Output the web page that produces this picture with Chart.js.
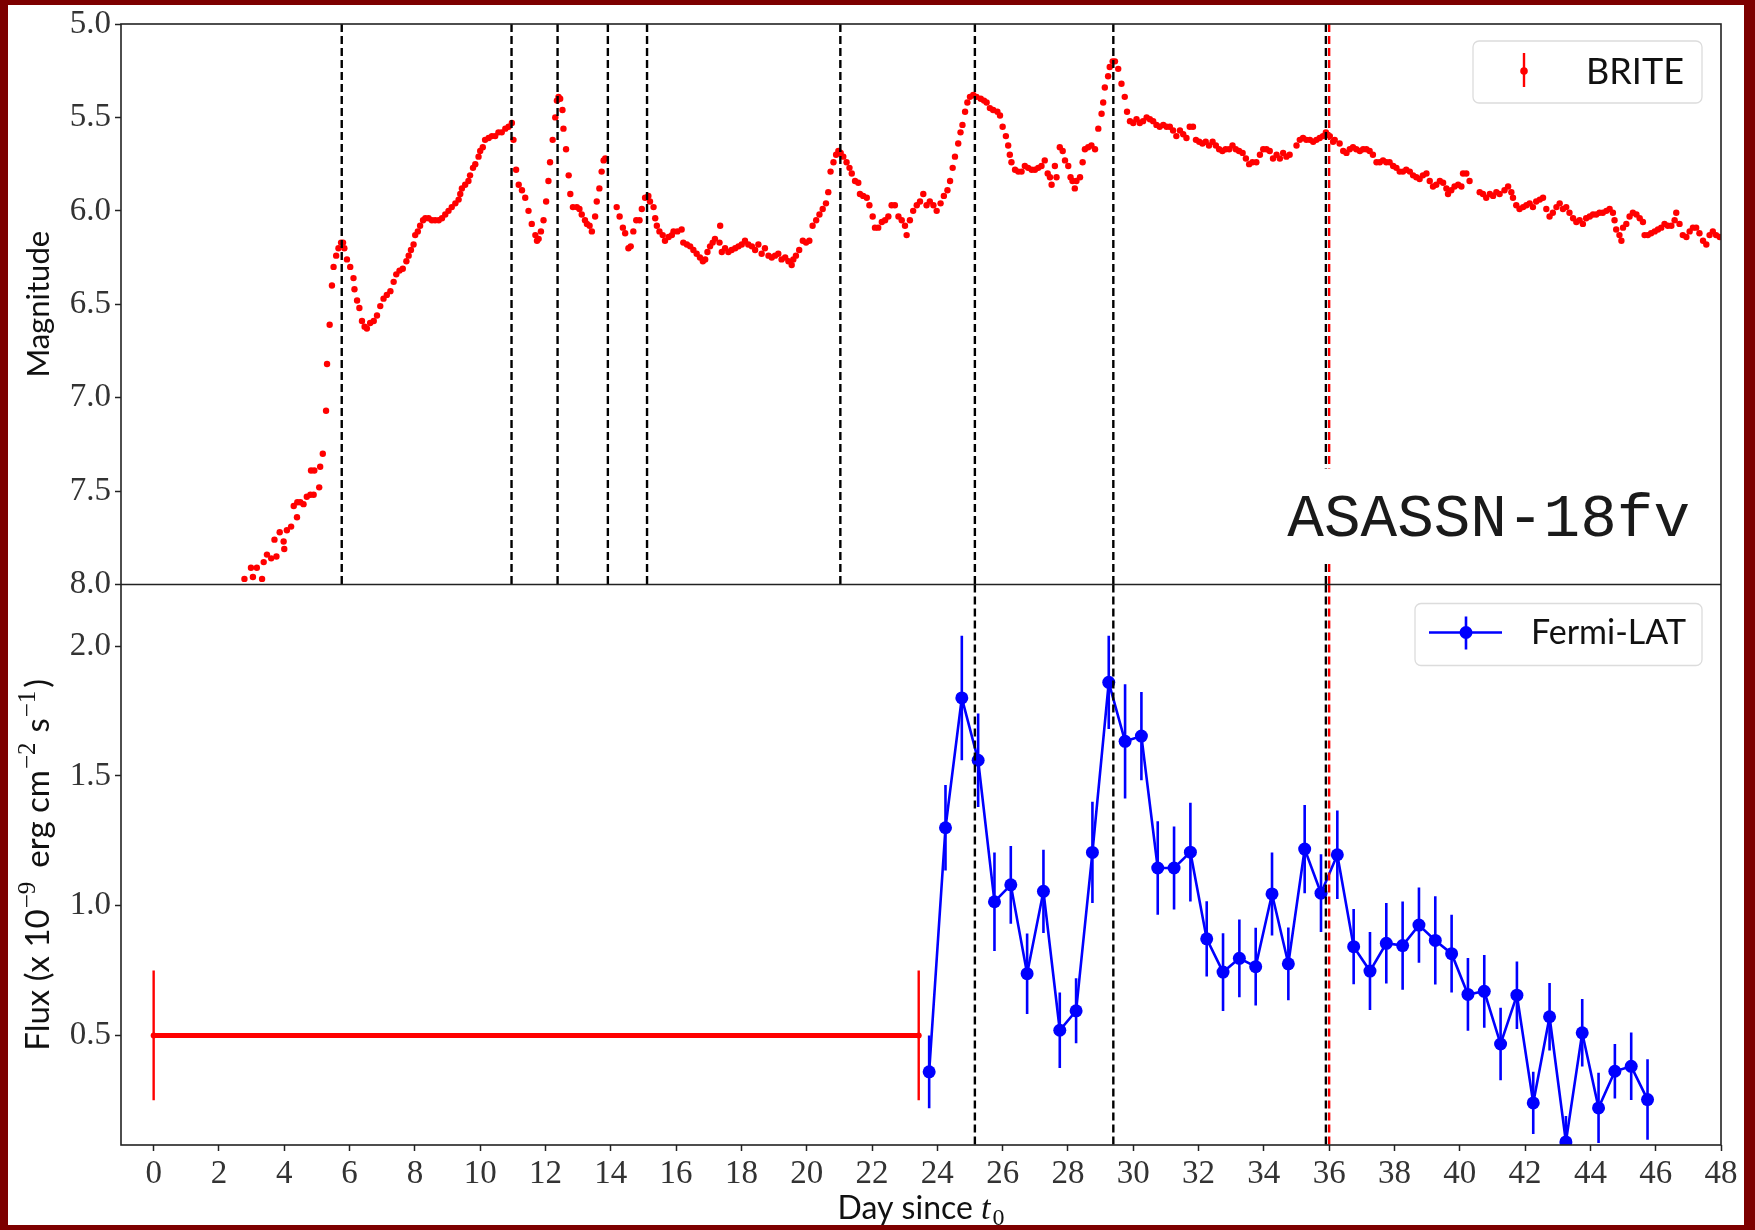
<!DOCTYPE html>
<html>
<head>
<meta charset="utf-8">
<script src="https://cdn.jsdelivr.net/npm/chart.js@4.4.1/dist/chart.umd.min.js"></script>
<style>
  html, body { margin: 0; padding: 0; background: #7d0000; }
  #marco { position: relative; width: 1755px; height: 1230px; background: #7d0000; overflow: hidden; }
  #papel { position: absolute; left: 8px; top: 5px; width: 1736px; height: 1220px; background: #fff; }
  #contenedor { position: absolute; left: 0; top: 0; width: 1755px; height: 1230px; }
</style>
</head>
<body>
<div id="marco">
  <div id="papel"></div>
  <div id="contenedor"><canvas id="grafico"></canvas></div>
</div>
<script>
// BRITE photometry (day since t0, magnitude)
var briteDay = [2.78, 2.98, 3.04, 3.16, 3.32, 3.37, 3.47, 3.60, 3.70, 3.76, 3.86, 3.98, 4.00, 4.08, 4.21, 4.29, 4.39, 4.40, 4.49, 4.59,
  4.69, 4.80, 4.82, 4.90, 4.92, 5.07, 5.10, 5.18, 5.28, 5.31, 5.39, 5.46, 5.51, 5.59, 5.66, 5.74, 5.80, 5.84, 5.92, 6.02,
  6.12, 6.15, 6.23, 6.30, 6.38, 6.46, 6.53, 6.63, 6.74, 6.84, 6.94, 7.04, 7.14, 7.25, 7.35, 7.43, 7.53, 7.63, 7.74, 7.81,
  7.88, 7.96, 8.01, 8.09, 8.16, 8.25, 8.32, 8.42, 8.52, 8.62, 8.73, 8.83, 8.93, 9.03, 9.13, 9.24, 9.34, 9.39, 9.44, 9.54,
  9.64, 9.69, 9.78, 9.85, 9.95, 10.00, 10.08, 10.15, 10.26, 10.36, 10.46, 10.56, 10.66, 10.77, 10.87, 10.97, 11.02, 11.10, 11.18, 11.28,
  11.38, 11.48, 11.58, 11.69, 11.74, 11.79, 11.86, 11.94, 12.02, 12.09, 12.14, 12.22, 12.30, 12.35, 12.40, 12.45, 12.52, 12.55, 12.63, 12.71,
  12.76, 12.84, 12.96, 13.04, 13.11, 13.21, 13.27, 13.35, 13.42, 13.52, 13.57, 13.65, 13.72, 13.78, 13.83, 14.18, 14.27, 14.37, 14.44, 14.54,
  14.61, 14.69, 14.78, 14.88, 14.95, 15.05, 15.15, 15.20, 15.31, 15.36, 15.41, 15.49, 15.59, 15.66, 15.77, 15.87, 15.92, 16.04, 16.17, 16.22,
  16.33, 16.43, 16.53, 16.63, 16.73, 16.82, 16.89, 16.96, 17.04, 17.12, 17.19, 17.33, 17.35, 17.40, 17.50, 17.60, 17.70, 17.81, 17.91, 18.01,
  18.11, 18.21, 18.32, 18.42, 18.52, 18.62, 18.72, 18.83, 18.93, 19.03, 19.13, 19.23, 19.34, 19.44, 19.54, 19.59, 19.67, 19.77, 19.88, 19.98,
  20.08, 20.18, 20.29, 20.39, 20.49, 20.59, 20.66, 20.73, 20.82, 20.90, 20.97, 21.04, 21.12, 21.22, 21.31, 21.38, 21.48, 21.58, 21.63, 21.73,
  21.84, 21.92, 22.02, 22.09, 22.19, 22.30, 22.40, 22.50, 22.60, 22.70, 22.81, 22.91, 23.01, 23.06, 23.16, 23.26, 23.37, 23.47, 23.57, 23.67,
  23.77, 23.88, 23.98, 24.10, 24.20, 24.31, 24.39, 24.47, 24.54, 24.64, 24.71, 24.77, 24.85, 24.92, 25.00, 25.10, 25.20, 25.33, 25.43, 25.51,
  25.61, 25.71, 25.84, 25.92, 26.00, 26.10, 26.17, 26.22, 26.27, 26.38, 26.48, 26.58, 26.68, 26.78, 26.89, 26.99, 27.09, 27.19, 27.29, 27.38,
  27.45, 27.50, 27.60, 27.65, 27.75, 27.84, 27.91, 28.01, 28.08, 28.14, 28.21, 28.26, 28.37, 28.45, 28.52, 28.62, 28.72, 28.83, 28.93, 29.03,
  29.08, 29.13, 29.23, 29.28, 29.37, 29.44, 29.54, 29.64, 29.74, 29.81, 29.90, 30.00, 30.10, 30.20, 30.30, 30.41, 30.51, 30.61, 30.71, 30.81,
  30.92, 31.02, 31.12, 31.22, 31.32, 31.43, 31.53, 31.63, 31.73, 31.83, 31.92, 32.02, 32.12, 32.22, 32.32, 32.43, 32.53, 32.63, 32.73, 32.83,
  32.94, 33.04, 33.14, 33.24, 33.35, 33.45, 33.55, 33.65, 33.77, 33.88, 33.98, 34.08, 34.18, 34.28, 34.39, 34.49, 34.59, 34.69, 34.79, 35.00,
  35.10, 35.20, 35.30, 35.41, 35.51, 35.61, 35.71, 35.81, 35.90, 36.02, 36.12, 36.17, 36.32, 36.43, 36.53, 36.63, 36.73, 36.83, 36.94, 37.04,
  37.14, 37.24, 37.34, 37.45, 37.55, 37.65, 37.75, 37.85, 37.96, 38.06, 38.16, 38.26, 38.36, 38.47, 38.57, 38.67, 38.77, 38.87, 38.98, 39.08,
  39.18, 39.28, 39.39, 39.49, 39.59, 39.64, 39.74, 39.84, 39.95, 40.05, 40.10, 40.20, 40.30, 40.61, 40.71, 40.81, 40.92, 41.02, 41.12, 41.22,
  41.37, 41.48, 41.58, 41.63, 41.73, 41.83, 41.94, 42.04, 42.14, 42.24, 42.34, 42.45, 42.55, 42.65, 42.75, 42.85, 42.96, 43.06, 43.16, 43.26,
  43.36, 43.47, 43.57, 43.67, 43.77, 43.87, 43.98, 44.08, 44.18, 44.28, 44.38, 44.49, 44.59, 44.69, 44.74, 44.79, 44.89, 44.95, 45.00, 45.10,
  45.20, 45.30, 45.41, 45.51, 45.61, 45.66, 45.76, 45.86, 45.97, 46.07, 46.17, 46.27, 46.37, 46.48, 46.58, 46.63, 46.73, 46.83, 46.94, 47.04,
  47.14, 47.24, 47.34, 47.45, 47.55, 47.65, 47.75, 47.85, 47.96];
var briteMag = [7.97, 7.91, 7.96, 7.91, 7.97, 7.88, 7.84, 7.86, 7.76, 7.85, 7.72, 7.77, 7.81, 7.71, 7.69, 7.58, 7.64, 7.56, 7.56, 7.57,
  7.53, 7.52, 7.39, 7.52, 7.39, 7.48, 7.37, 7.30, 7.07, 6.82, 6.61, 6.40, 6.30, 6.24, 6.20, 6.17, 6.17, 6.20, 6.26, 6.30,
  6.36, 6.42, 6.48, 6.52, 6.59, 6.62, 6.63, 6.60, 6.59, 6.56, 6.51, 6.47, 6.45, 6.43, 6.38, 6.34, 6.32, 6.31, 6.27, 6.24,
  6.21, 6.18, 6.13, 6.11, 6.08, 6.05, 6.04, 6.04, 6.05, 6.05, 6.05, 6.04, 6.02, 6.00, 5.98, 5.96, 5.94, 5.91, 5.88, 5.86,
  5.84, 5.81, 5.77, 5.75, 5.71, 5.68, 5.66, 5.62, 5.61, 5.60, 5.60, 5.58, 5.58, 5.56, 5.55, 5.53, 5.62, 5.78, 5.86, 5.89,
  5.93, 6.00, 6.07, 6.13, 6.16, 6.15, 6.11, 6.05, 5.95, 5.84, 5.74, 5.62, 5.50, 5.41, 5.39, 5.40, 5.46, 5.56, 5.67, 5.81,
  5.91, 5.98, 5.98, 5.99, 6.02, 6.05, 6.07, 6.08, 6.11, 6.03, 5.95, 5.88, 5.79, 5.73, 5.72, 5.98, 6.03, 6.09, 6.12, 6.20,
  6.19, 6.11, 6.05, 6.05, 5.99, 5.93, 5.92, 5.95, 5.98, 6.04, 6.08, 6.11, 6.13, 6.16, 6.14, 6.13, 6.11, 6.11, 6.10, 6.17,
  6.18, 6.19, 6.21, 6.23, 6.25, 6.27, 6.26, 6.22, 6.19, 6.17, 6.15, 6.17, 6.08, 6.22, 6.20, 6.22, 6.21, 6.20, 6.19, 6.18,
  6.16, 6.18, 6.19, 6.21, 6.18, 6.23, 6.20, 6.24, 6.25, 6.24, 6.23, 6.26, 6.25, 6.27, 6.29, 6.26, 6.24, 6.21, 6.16, 6.17,
  6.16, 6.08, 6.05, 6.02, 5.99, 5.96, 5.90, 5.79, 5.74, 5.70, 5.68, 5.69, 5.71, 5.74, 5.77, 5.80, 5.84, 5.85, 5.91, 5.92,
  5.93, 5.97, 6.03, 6.09, 6.09, 6.06, 6.05, 6.03, 5.97, 5.97, 6.03, 6.05, 6.08, 6.13, 6.05, 6.00, 5.97, 5.95, 5.91, 5.97,
  5.95, 5.97, 6.00, 5.96, 5.92, 5.89, 5.84, 5.77, 5.71, 5.64, 5.58, 5.54, 5.47, 5.42, 5.39, 5.38, 5.39, 5.40, 5.41, 5.42,
  5.45, 5.46, 5.47, 5.49, 5.55, 5.60, 5.65, 5.70, 5.74, 5.78, 5.79, 5.79, 5.76, 5.77, 5.78, 5.78, 5.77, 5.76, 5.73, 5.80,
  5.82, 5.86, 5.76, 5.82, 5.66, 5.68, 5.73, 5.76, 5.82, 5.84, 5.88, 5.84, 5.82, 5.74, 5.67, 5.66, 5.65, 5.67, 5.56, 5.48,
  5.42, 5.34, 5.28, 5.23, 5.20, 5.20, 5.24, 5.32, 5.39, 5.47, 5.52, 5.53, 5.51, 5.53, 5.52, 5.50, 5.51, 5.52, 5.54, 5.55,
  5.54, 5.55, 5.55, 5.57, 5.60, 5.57, 5.59, 5.61, 5.55, 5.55, 5.62, 5.63, 5.64, 5.63, 5.65, 5.63, 5.65, 5.67, 5.68, 5.67,
  5.67, 5.65, 5.67, 5.68, 5.69, 5.72, 5.75, 5.74, 5.74, 5.70, 5.67, 5.67, 5.68, 5.72, 5.70, 5.72, 5.69, 5.71, 5.70, 5.65,
  5.62, 5.61, 5.62, 5.62, 5.63, 5.62, 5.61, 5.60, 5.58, 5.60, 5.63, 5.62, 5.64, 5.68, 5.69, 5.67, 5.66, 5.67, 5.68, 5.67,
  5.67, 5.68, 5.70, 5.74, 5.74, 5.73, 5.74, 5.74, 5.76, 5.77, 5.79, 5.79, 5.78, 5.79, 5.81, 5.82, 5.83, 5.81, 5.80, 5.84,
  5.87, 5.86, 5.84, 5.85, 5.88, 5.91, 5.89, 5.87, 5.86, 5.87, 5.80, 5.80, 5.84, 5.90, 5.91, 5.93, 5.91, 5.92, 5.90, 5.91,
  5.89, 5.87, 5.90, 5.93, 5.97, 5.99, 5.98, 5.97, 5.96, 5.98, 5.95, 5.94, 5.93, 5.99, 6.03, 6.01, 5.98, 5.96, 5.99, 5.98,
  6.01, 6.04, 6.06, 6.05, 6.07, 6.04, 6.03, 6.02, 6.02, 6.01, 6.01, 6.00, 5.99, 6.01, 6.05, 6.10, 6.13, 6.16, 6.09, 6.07,
  6.03, 6.01, 6.02, 6.04, 6.06, 6.13, 6.13, 6.12, 6.11, 6.10, 6.09, 6.07, 6.08, 6.08, 6.05, 6.01, 6.07, 6.13, 6.14, 6.11,
  6.09, 6.09, 6.12, 6.16, 6.18, 6.13, 6.11, 6.13, 6.14];

// Fermi-LAT flux (x 1e-9 erg cm^-2 s^-1)
var fermiDay = [23.75, 24.25, 24.75, 25.25, 25.75, 26.25, 26.75, 27.25, 27.75, 28.25, 28.75, 29.25, 29.75, 30.25, 30.75,
  31.25, 31.75, 32.25, 32.75, 33.25, 33.75, 34.25, 34.75, 35.25, 35.75, 36.25, 36.75, 37.25, 37.75, 38.25,
  38.75, 39.25, 39.75, 40.25, 40.75, 41.25, 41.75, 42.25, 42.75, 43.25, 43.75, 44.25, 44.75, 45.25, 45.75];
var fermiFlux = [0.36, 1.30, 1.80, 1.56, 1.015, 1.08, 0.738, 1.055, 0.52, 0.595, 1.205, 1.86, 1.633, 1.653, 1.145,
  1.145, 1.206, 0.872, 0.744, 0.797, 0.765, 1.045, 0.776, 1.218, 1.048, 1.196, 0.842, 0.748, 0.855, 0.846,
  0.925, 0.866, 0.815, 0.658, 0.67, 0.467, 0.655, 0.24, 0.572, 0.09, 0.51, 0.221, 0.362, 0.381, 0.253];
var fermiErr = [0.14, 0.165, 0.24, 0.18, 0.19, 0.15, 0.155, 0.16, 0.145, 0.125, 0.195, 0.18, 0.22, 0.17, 0.18,
  0.16, 0.19, 0.145, 0.15, 0.15, 0.15, 0.16, 0.14, 0.17, 0.15, 0.17, 0.145, 0.15, 0.155, 0.17,
  0.145, 0.17, 0.15, 0.14, 0.14, 0.14, 0.13, 0.12, 0.13, 0.10, 0.13, 0.135, 0.105, 0.13, 0.155];

// early LAT bin (red bar)
var ulDay = [0, 23.43];
var ulFlux = 0.5;
var ulErr = 0.25;

// dashed markers
var flareDays = [5.76, 10.96, 12.37, 13.91, 15.11, 21.03, 25.15, 29.39, 35.9];
var peakDay = 36.0;

// ticks
var xTicks = [0, 2, 4, 6, 8, 10, 12, 14, 16, 18, 20, 22, 24, 26, 28, 30, 32, 34, 36, 38, 40, 42, 44, 46, 48];
var magTicks = [5.0, 5.5, 6.0, 6.5, 7.0, 7.5, 8.0];
var fluxTicks = [0.5, 1.0, 1.5, 2.0];

var SERIF = '"Liberation Serif", "DejaVu Serif", serif';
var SANS = 'Lato, "Open Sans", sans-serif';

function lineaVertical(ctx, px, top, bottom, color) {
  ctx.beginPath();
  ctx.setLineDash([8, 4]);
  ctx.lineWidth = 2.4;
  ctx.strokeStyle = color;
  ctx.moveTo(px, top);
  ctx.lineTo(px, bottom);
  ctx.stroke();
}

function cajaLeyenda(ctx, x0, y0, w, h) {
  ctx.save();
  ctx.setLineDash([]);
  ctx.beginPath();
  ctx.roundRect(x0, y0, w, h, 6);
  ctx.fillStyle = 'rgba(255,255,255,0.85)';
  ctx.fill();
  ctx.strokeStyle = '#dcdcdc';
  ctx.lineWidth = 1.3;
  ctx.stroke();
  ctx.restore();
}

var decoraciones = {
  id: 'decoraciones',
  beforeDatasetsDraw: function (chart) {
    var ctx = chart.ctx, area = chart.chartArea;
    var x = chart.scales.x, yF = chart.scales.yFlux;
    ctx.save();
    ctx.beginPath();
    ctx.rect(area.left, yF.top, area.right - area.left, yF.bottom - yF.top);
    ctx.clip();
    // error bars
    ctx.lineWidth = 2.6;
    ctx.strokeStyle = '#0000ff';
    fermiDay.forEach(function (d, i) {
      var px = x.getPixelForValue(d);
      ctx.beginPath();
      ctx.moveTo(px, yF.getPixelForValue(fermiFlux[i] + fermiErr[i]));
      ctx.lineTo(px, yF.getPixelForValue(fermiFlux[i] - fermiErr[i]));
      ctx.stroke();
    });
    ctx.strokeStyle = '#ff0000';
    ctx.lineWidth = 2.4;
    ulDay.forEach(function (d) {
      var px = x.getPixelForValue(d);
      ctx.beginPath();
      ctx.moveTo(px, yF.getPixelForValue(ulFlux + ulErr));
      ctx.lineTo(px, yF.getPixelForValue(ulFlux - ulErr));
      ctx.stroke();
    });
    ctx.restore();
  },
  afterDatasetsDraw: function (chart) {
    var ctx = chart.ctx, area = chart.chartArea;
    var x = chart.scales.x, yM = chart.scales.yMag, yF = chart.scales.yFlux;
    ctx.save();

    // dashed vertical lines
    flareDays.forEach(function (d) {
      var px = x.getPixelForValue(d);
      lineaVertical(ctx, px, yM.top, yM.bottom, '#000');
      if (d >= fermiDay[0]) lineaVertical(ctx, px, yF.top, yF.bottom, '#000');
    });
    var pxPeak = x.getPixelForValue(peakDay);
    lineaVertical(ctx, pxPeak, yM.top, yM.bottom, '#ff0000');
    lineaVertical(ctx, pxPeak, yF.top, yF.bottom, '#ff0000');
    ctx.setLineDash([]);

    // source label with white box
    ctx.fillStyle = '#fff';
    ctx.fillRect(area.right - 445, yM.bottom - 116, 425, 94);
    ctx.fillStyle = '#1a1a1a';
    ctx.font = '61px "Liberation Mono", "DejaVu Sans Mono", monospace';
    ctx.textAlign = 'right';
    ctx.textBaseline = 'alphabetic';
    ctx.fillText('ASASSN-18fv', area.right - 31, yM.bottom - 49);

    // BRITE legend
    var bx = area.right - 248, by = yM.top + 17;
    cajaLeyenda(ctx, bx, by, 229, 62);
    ctx.strokeStyle = '#ff0000';
    ctx.fillStyle = '#ff0000';
    ctx.lineWidth = 2.4;
    ctx.beginPath();
    ctx.moveTo(bx + 51, by + 12);
    ctx.lineTo(bx + 51, by + 46);
    ctx.stroke();
    ctx.beginPath();
    ctx.arc(bx + 51, by + 30, 3.8, 0, Math.PI * 2);
    ctx.fill();
    ctx.fillStyle = '#111';
    ctx.font = '36px ' + SANS;
    ctx.textAlign = 'left';
    ctx.textBaseline = 'middle';
    ctx.fillText('BRITE', bx + 113, by + 31);

    // Fermi-LAT legend
    var fx = area.right - 306, fy = yF.top + 19;
    cajaLeyenda(ctx, fx, fy, 287, 62);
    ctx.strokeStyle = '#0000ff';
    ctx.fillStyle = '#0000ff';
    ctx.lineWidth = 2.6;
    ctx.beginPath();
    ctx.moveTo(fx + 14, fy + 29);
    ctx.lineTo(fx + 87, fy + 29);
    ctx.moveTo(fx + 51, fy + 13);
    ctx.lineTo(fx + 51, fy + 46);
    ctx.stroke();
    ctx.beginPath();
    ctx.arc(fx + 51, fy + 29, 6.5, 0, Math.PI * 2);
    ctx.fill();
    ctx.fillStyle = '#111';
    ctx.font = '34px ' + SANS;
    ctx.fillText('Fermi-LAT', fx + 116, fy + 30);

    // frame
    ctx.strokeStyle = '#222';
    ctx.lineWidth = 1.6;
    ctx.strokeRect(area.left, area.top, area.right - area.left, area.bottom - area.top);
    ctx.beginPath();
    ctx.moveTo(area.left, yM.bottom);
    ctx.lineTo(area.right, yM.bottom);
    ctx.stroke();

    // axis titles
    ctx.fillStyle = '#111';
    ctx.textBaseline = 'alphabetic';
    ctx.save();
    ctx.translate(49, (yM.top + yM.bottom) / 2);
    ctx.rotate(-Math.PI / 2);
    ctx.textAlign = 'center';
    ctx.font = '31px ' + SANS;
    ctx.fillText('Magnitude', 0, 0);
    ctx.restore();

    // [text, superscript?, gap after]
    var partes = [
      ['Flux (x 10', 0, 1], ['\u22129', 1, 14], ['erg cm', 0, 1], ['\u22122', 1, 10], ['s', 0, 1], ['\u22121', 1, 3], [')', 0, 0]
    ];
    var fNormal = '33px ' + SANS, fSup = '25px ' + SERIF;
    var total = 0;
    partes.forEach(function (p) {
      ctx.font = p[1] ? fSup : fNormal;
      total += ctx.measureText(p[0]).width + p[2];
    });
    ctx.save();
    ctx.translate(49, (yF.top + yF.bottom) / 2);
    ctx.rotate(-Math.PI / 2);
    ctx.textAlign = 'left';
    var cx = -total / 2;
    partes.forEach(function (p) {
      ctx.font = p[1] ? fSup : fNormal;
      ctx.fillText(p[0], cx, p[1] ? -14 : 0);
      cx += ctx.measureText(p[0]).width + p[2];
    });
    ctx.restore();

    // x title: Day since t0
    var t1 = 'Day since ';
    ctx.font = '32px ' + SANS;
    var w1 = ctx.measureText(t1).width;
    ctx.font = 'italic 34px ' + SERIF;
    var w2 = ctx.measureText('t').width;
    ctx.font = '24px ' + SERIF;
    var w3 = ctx.measureText('0').width;
    var sx = (area.left + area.right) / 2 - (w1 + w2 + w3 + 2) / 2;
    var base = area.bottom + 74;
    ctx.textAlign = 'left';
    ctx.font = '32px ' + SANS;
    ctx.fillText(t1, sx, base);
    ctx.font = 'italic 34px ' + SERIF;
    ctx.fillText('t', sx + w1, base);
    ctx.font = '24px ' + SERIF;
    ctx.fillText('0', sx + w1 + w2 + 2, base + 6);

    ctx.restore();
  }
};

var ejeTicks = { display: true, drawOnChartArea: false, drawTicks: true, tickLength: 6, tickWidth: 1.5, tickColor: '#222' };

var ctxGrafico = document.getElementById('grafico').getContext('2d');
new Chart(ctxGrafico, {
  type: 'scatter',
  data: {
    datasets: [
      {
        label: 'BRITE',
        data: briteDay.map(function (d, i) { return { x: d, y: briteMag[i] }; }),
        xAxisID: 'x', yAxisID: 'yMag',
        showLine: false,
        pointRadius: 3.2,
        pointBorderWidth: 0,
        backgroundColor: '#ff0000',
        borderColor: '#ff0000'
      },
      {
        label: 'LAT early',
        data: ulDay.map(function (d) { return { x: d, y: ulFlux }; }),
        xAxisID: 'x', yAxisID: 'yFlux',
        showLine: true,
        borderWidth: 5,
        borderColor: '#ff0000',
        backgroundColor: '#ff0000',
        pointRadius: 3,
        pointBorderWidth: 0
      },
      {
        label: 'Fermi-LAT',
        data: fermiDay.map(function (d, i) { return { x: d, y: fermiFlux[i] }; }),
        xAxisID: 'x', yAxisID: 'yFlux',
        showLine: true,
        borderWidth: 2.6,
        borderColor: '#0000ff',
        backgroundColor: '#0000ff',
        pointRadius: 6.5,
        pointBorderWidth: 0,
        clip: 0
      }
    ]
  },
  options: {
    responsive: true,
    maintainAspectRatio: false,
    animation: false,
    devicePixelRatio: 1,
    layout: { padding: { left: 0, right: 34, top: 24, bottom: 25 } },
    plugins: { legend: { display: false }, tooltip: { enabled: false } },
    scales: {
      x: {
        type: 'linear', position: 'bottom', min: -1, max: 48,
        afterBuildTicks: function (s) { s.ticks = xTicks.map(function (v) { return { value: v }; }); },
        afterFit: function (s) { s.height = 60; },
        ticks: { font: { family: SERIF, size: 33 }, color: '#333', padding: 4, maxRotation: 0, autoSkip: false },
        grid: ejeTicks,
        border: { display: false }
      },
      yFlux: {
        type: 'linear', position: 'left', stack: 'paneles', stackWeight: 1, weight: 0,
        min: 0.078, max: 2.237,
        afterBuildTicks: function (s) { s.ticks = fluxTicks.map(function (v) { return { value: v }; }); },
        afterFit: function (s) { s.width = 121; },
        ticks: { font: { family: SERIF, size: 33 }, color: '#333', padding: 4, callback: function (v) { return v.toFixed(1); } },
        grid: ejeTicks,
        border: { display: false }
      },
      yMag: {
        type: 'linear', position: 'left', stack: 'paneles', stackWeight: 1, weight: 1,
        min: 5, max: 8, reverse: true,
        afterBuildTicks: function (s) { s.ticks = magTicks.map(function (v) { return { value: v }; }); },
        afterFit: function (s) { s.width = 121; },
        ticks: { font: { family: SERIF, size: 33 }, color: '#333', padding: 4, callback: function (v) { return v.toFixed(1); } },
        grid: ejeTicks,
        border: { display: false }
      }
    }
  },
  plugins: [decoraciones]
});
</script>
</body>
</html>
